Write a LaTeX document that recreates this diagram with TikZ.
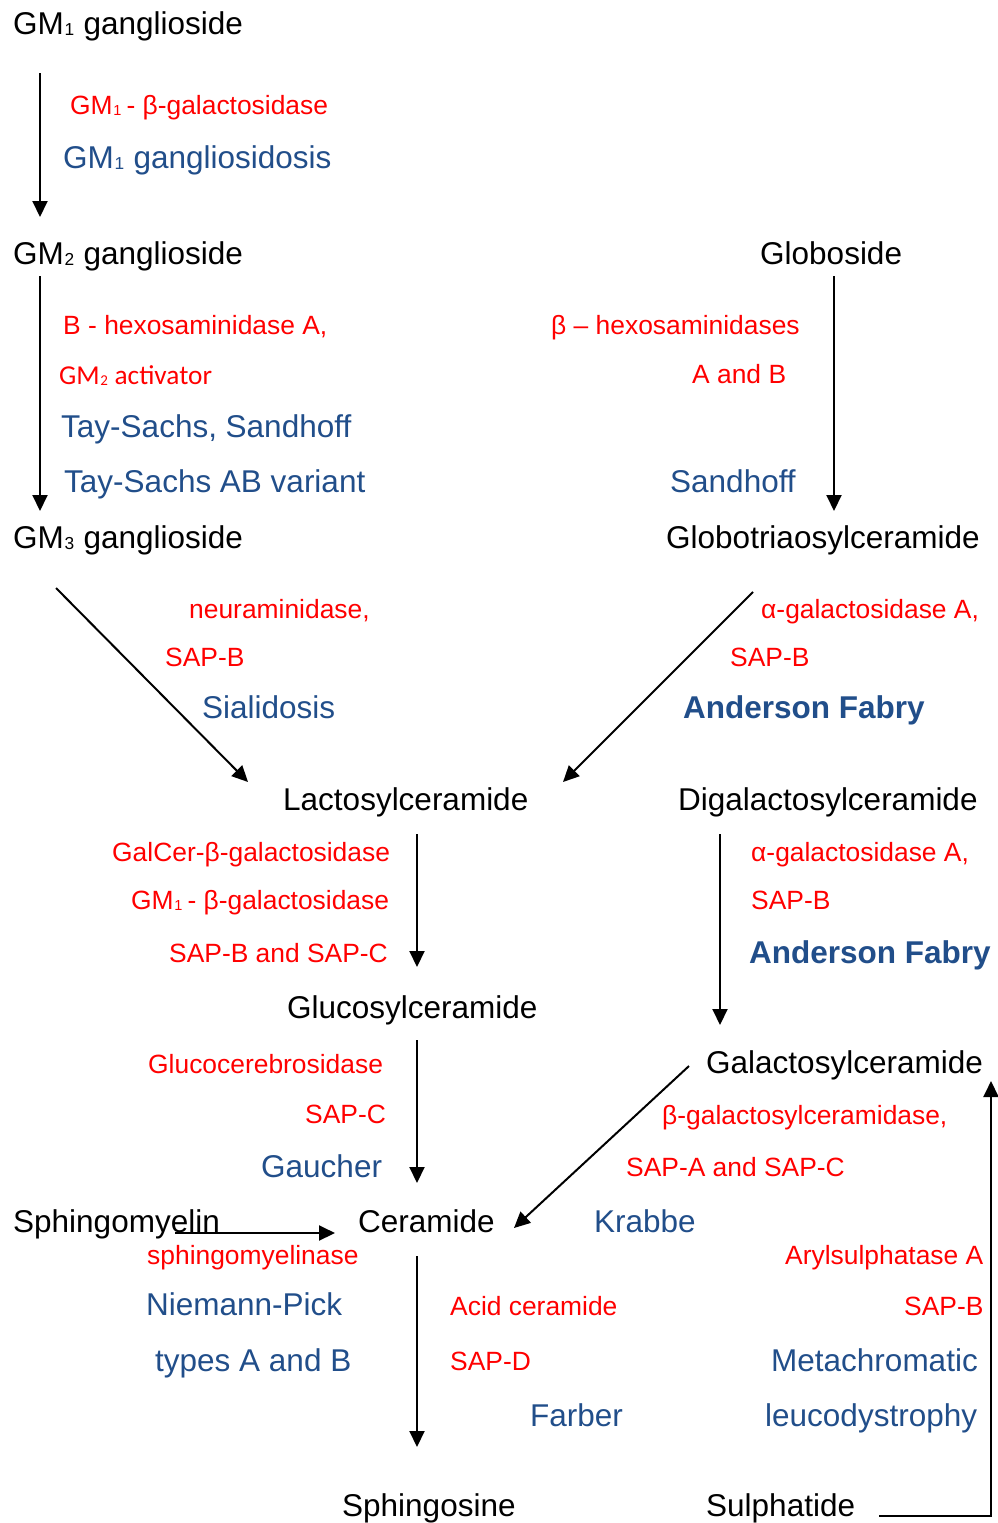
\documentclass[tikz,border=0pt]{standalone}
\usepackage{fontspec}
\setmainfont{Liberation Sans}
\newfontfamily\carlito{Carlito}
\usetikzlibrary{arrows.meta}
\definecolor{enzred}{RGB}{255,0,0}
\definecolor{disblue}{RGB}{33,78,138}
\newcommand{\sbs}[1]{\kern0.02em\relax\raisebox{-0.06em}{\scalebox{0.55}{#1}}\kern0.02em\relax}
\tikzset{
  lip/.style={anchor=base west, inner sep=0pt, text=black, font=\fontsize{31.5}{36}\selectfont},
  enz/.style={anchor=base west, inner sep=0pt, text=enzred, font=\fontsize{26.4}{30}\selectfont},
  dis/.style={anchor=base west, inner sep=0pt, text=disblue, font=\fontsize{31.5}{36}\selectfont},
  disb/.style={anchor=base west, inner sep=0pt, text=disblue, font=\fontsize{31.5}{36}\selectfont\bfseries},
  arr/.style={-{Triangle[length=16pt,width=15pt]}, line width=2pt, black}
}
\begin{document}
\begin{tikzpicture}[x=1pt,y=-1pt]
\useasboundingbox (0,0) rectangle (998,1523);
% lipids
\node[lip] (gm1) at (13,34) {GM\sbs{1} ganglioside};
\node[lip] (gm2) at (13,264) {GM\sbs{2} ganglioside};
\node[lip] (glob) at (760,264) {Globoside};
\node[lip] (gm3) at (13,548) {GM\sbs{3} ganglioside};
\node[lip] (gtri) at (666,548) {Globotriaosylceramide};
\node[lip] (lac) at (283,810) {Lactosylceramide};
\node[lip] (digal) at (678,810) {Digalactosylceramide};
\node[lip] (glc) at (287,1018) {Glucosylceramide};
\node[lip] (gal) at (706,1073) {Galactosylceramide};
\node[lip] (sm) at (13,1232) {Sphingomyelin};
\node[lip] (cer) at (358,1232) {Ceramide};
\node[lip] (sph) at (342,1516) {Sphingosine};
\node[lip] (sul) at (706,1516) {Sulphatide};
% enzymes
\node[enz] (e1) at (70,114) {GM\sbs{1}\kern-0.1em\relax{} - β-galactosidase};
\node[enz] (e2) at (63,334) {B - hexosaminidase A,};
\node[enz, font=\carlito\fontsize{27.3}{30}\selectfont] (e3) at (59,384) {GM\sbs{2} activator};
\node[enz] (e4) at (551,334) {β – hexosaminidases};
\node[enz] (e5) at (692,383) {A and B};
\node[enz] (e6) at (189,618) {neuraminidase,};
\node[enz] (e7) at (165,666) {SAP-B};
\node[enz] (e8) at (761,618) {α-galactosidase A,};
\node[enz] (e9) at (730,666) {SAP-B};
\node[enz] (e10) at (112,861) {GalCer-β-galactosidase};
\node[enz] (e11) at (131,909) {GM\sbs{1}\kern-0.1em\relax{} - β-galactosidase};
\node[enz] (e12) at (169,962) {SAP-B and SAP-C};
\node[enz] (e13) at (751,861) {α-galactosidase A,};
\node[enz] (e14) at (751,909) {SAP-B};
\node[enz] (e15) at (148,1073) {Glucocerebrosidase};
\node[enz] (e16) at (305,1123) {SAP-C};
\node[enz] (e17) at (662,1124) {β-galactosylceramidase,};
\node[enz] (e18) at (626,1176) {SAP-A and SAP-C};
\node[enz] (e19) at (147,1264) {sphingomyelinase};
\node[enz] (e20) at (785,1264) {Arylsulphatase A};
\node[enz] (e21) at (904,1315) {SAP-B};
\node[enz] (e22) at (450,1315) {Acid ceramide};
\node[enz] (e23) at (450,1370) {SAP-D};
% diseases
\node[dis] (d1) at (63,168) {GM\sbs{1} gangliosidosis};
\node[dis] (d2) at (61,437) {Tay-Sachs, Sandhoff};
\node[dis] (d3) at (64,492) {Tay-Sachs AB variant};
\node[dis] (d4) at (670,492) {Sandhoff};
\node[dis] (d5) at (202,718) {Sialidosis};
\node[disb] (d6) at (683,718) {Anderson Fabry};
\node[disb] (d7) at (749,963) {Anderson Fabry};
\node[dis] (d8) at (261,1177) {Gaucher};
\node[dis] (d9) at (594,1232) {Krabbe};
\node[dis] (d10) at (146,1315) {Niemann-Pick};
\node[dis] (d11) at (155,1371) {types A and B};
\node[dis] (d12) at (530,1426) {Farber};
\node[dis] (d13) at (771,1371) {Metachromatic};
\node[dis] (d14) at (765,1426) {leucodystrophy};
% connector end points
\coordinate (a1s) at (40,73);  \coordinate (a1e) at (40,217);
\coordinate (a2s) at (40,276); \coordinate (a2e) at (40,511);
\coordinate (a3s) at (834,276); \coordinate (a3e) at (834,511);
\coordinate (a4s) at (56,588); \coordinate (a4e) at (248,782);
\coordinate (a5s) at (753,592); \coordinate (a5e) at (563,782);
\coordinate (a6s) at (417,834); \coordinate (a6e) at (417,967);
\coordinate (a7s) at (720,834); \coordinate (a7e) at (720,1025);
\coordinate (a8s) at (417,1040); \coordinate (a8e) at (417,1183);
\coordinate (a9s) at (689,1066); \coordinate (a9e) at (514,1228);
\coordinate (a10s) at (175,1233); \coordinate (a10e) at (335,1233);
\coordinate (a11s) at (417,1256); \coordinate (a11e) at (417,1447);
\coordinate (a12s) at (879,1516); \coordinate (a12c) at (991,1516); \coordinate (a12e) at (991,1081);
% connectors
\draw[arr] (a1s) -- (a1e);
\draw[arr] (a2s) -- (a2e);
\draw[arr] (a3s) -- (a3e);
\draw[arr] (a4s) -- (a4e);
\draw[arr] (a5s) -- (a5e);
\draw[arr] (a6s) -- (a6e);
\draw[arr] (a7s) -- (a7e);
\draw[arr] (a8s) -- (a8e);
\draw[arr] (a9s) -- (a9e);
\draw[arr] (a10s) -- (a10e);
\draw[arr] (a11s) -- (a11e);
\draw[arr] (a12s) -- (a12c) -- (a12e);
\end{tikzpicture}
\end{document}
